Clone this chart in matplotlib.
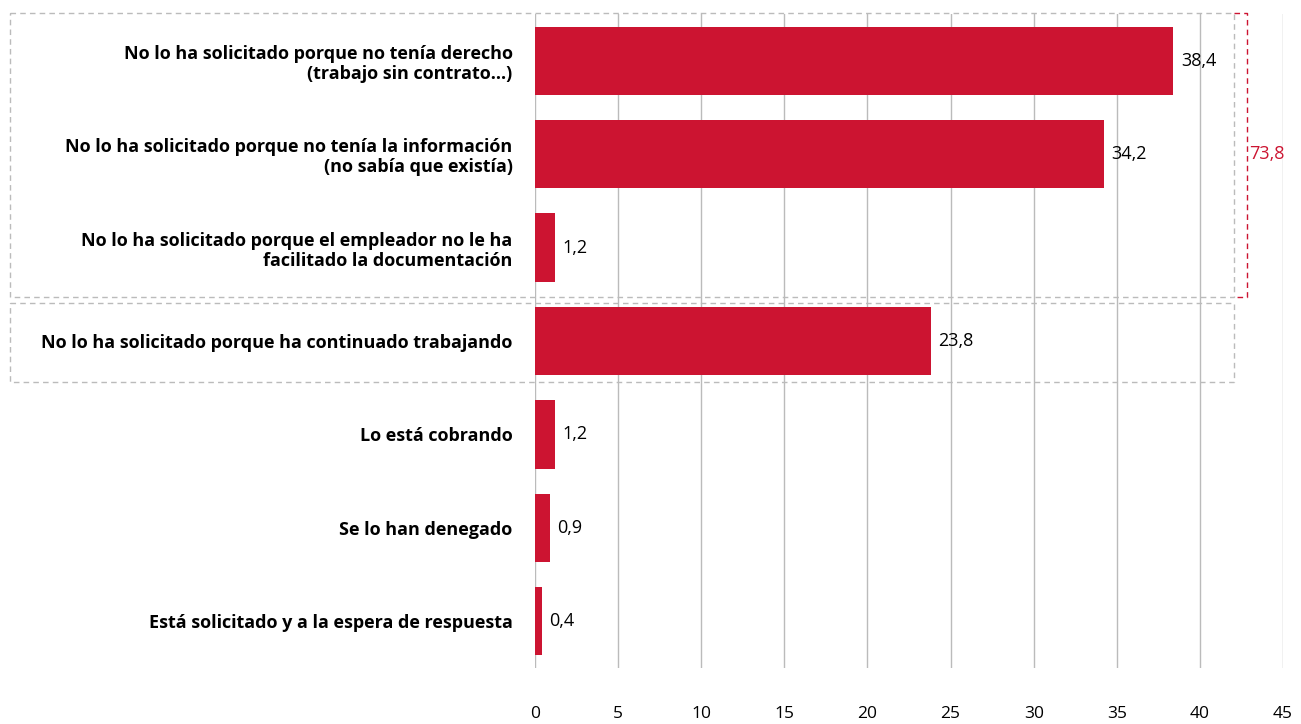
import matplotlib.pyplot as plt
import matplotlib.patches as patches
from matplotlib.transforms import blended_transform_factory

categorias = [
    'No lo ha solicitado porque no tenía derecho\n(trabajo sin contrato...)',
    'No lo ha solicitado porque no tenía la información\n(no sabía que existía)',
    'No lo ha solicitado porque el empleador no le ha\nfacilitado la documentación',
    'No lo ha solicitado porque ha continuado trabajando',
    'Lo está cobrando',
    'Se lo han denegado',
    'Está solicitado y a la espera de respuesta',
]
valores = [38.4, 34.2, 1.2, 23.8, 1.2, 0.9, 0.4]
total_grupo = 73.8
ticks_x = [0, 5, 10, 15, 20, 25, 30, 35, 40, 45]

rojo = '#CC1431'
gris = '#BBBBBB'

plt.rcParams['font.family'] = ['Open Sans', 'DejaVu Sans']

fig = plt.figure(figsize=(13.01, 7.24), dpi=100)
ax = fig.add_axes([0.4112, 0.0773, 0.575, 0.9034])

y = list(range(len(categorias)))
ax.barh(y, valores, height=0.73, color=rojo, zorder=3)
ax.set_ylim(len(categorias) - 0.5, -0.5)
ax.set_xlim(0, 45)
ax.set_xticks(ticks_x)
ax.xaxis.grid(True, color=gris, linewidth=1)
ax.set_axisbelow(True)
for s in ax.spines.values():
    s.set_visible(False)
ax.tick_params(axis='x', length=0, pad=27, labelsize=12.5)
ax.tick_params(axis='y', length=0, pad=16)
ax.set_yticks(y)
ax.set_yticklabels(categorias, fontsize=13, fontweight='bold', linespacing=1.15)
for lab in ax.get_yticklabels():
    lab.set_horizontalalignment('right')
    lab.set_multialignment('right')

for yi, v in zip(y, valores):
    ax.text(v + 0.45, yi, f'{v:.1f}'.replace('.', ','), va='center', ha='left', fontsize=13)

# cajas discontinuas
tr = blended_transform_factory(fig.transFigure, ax.transData)
x0 = 10 / 1301
x1 = 1234 / 1301
caja1 = patches.Rectangle((x0, -0.51), x1 - x0, 3.04, transform=tr, fill=False,
                          edgecolor=gris, linestyle=(0, (4, 3)), linewidth=1, clip_on=False)
caja2 = patches.Rectangle((x0, 2.59), x1 - x0, 0.85, transform=tr, fill=False,
                          edgecolor=gris, linestyle=(0, (4, 3)), linewidth=1, clip_on=False)
fig.add_artist(caja1)
fig.add_artist(caja2)

# corchete del total
xb = 1247 / 1301
ax.plot([x1, xb, xb, x1], [-0.51, -0.51, 2.53, 2.53], transform=tr, color=rojo,
        linestyle=(0, (4, 3)), linewidth=1, clip_on=False)
ax.text(xb + 2 / 1301, 1, f'{total_grupo:.1f}'.replace('.', ','), transform=tr,
        color=rojo, fontsize=13, va='center', ha='left')

fig.savefig('out.png', dpi=100)
